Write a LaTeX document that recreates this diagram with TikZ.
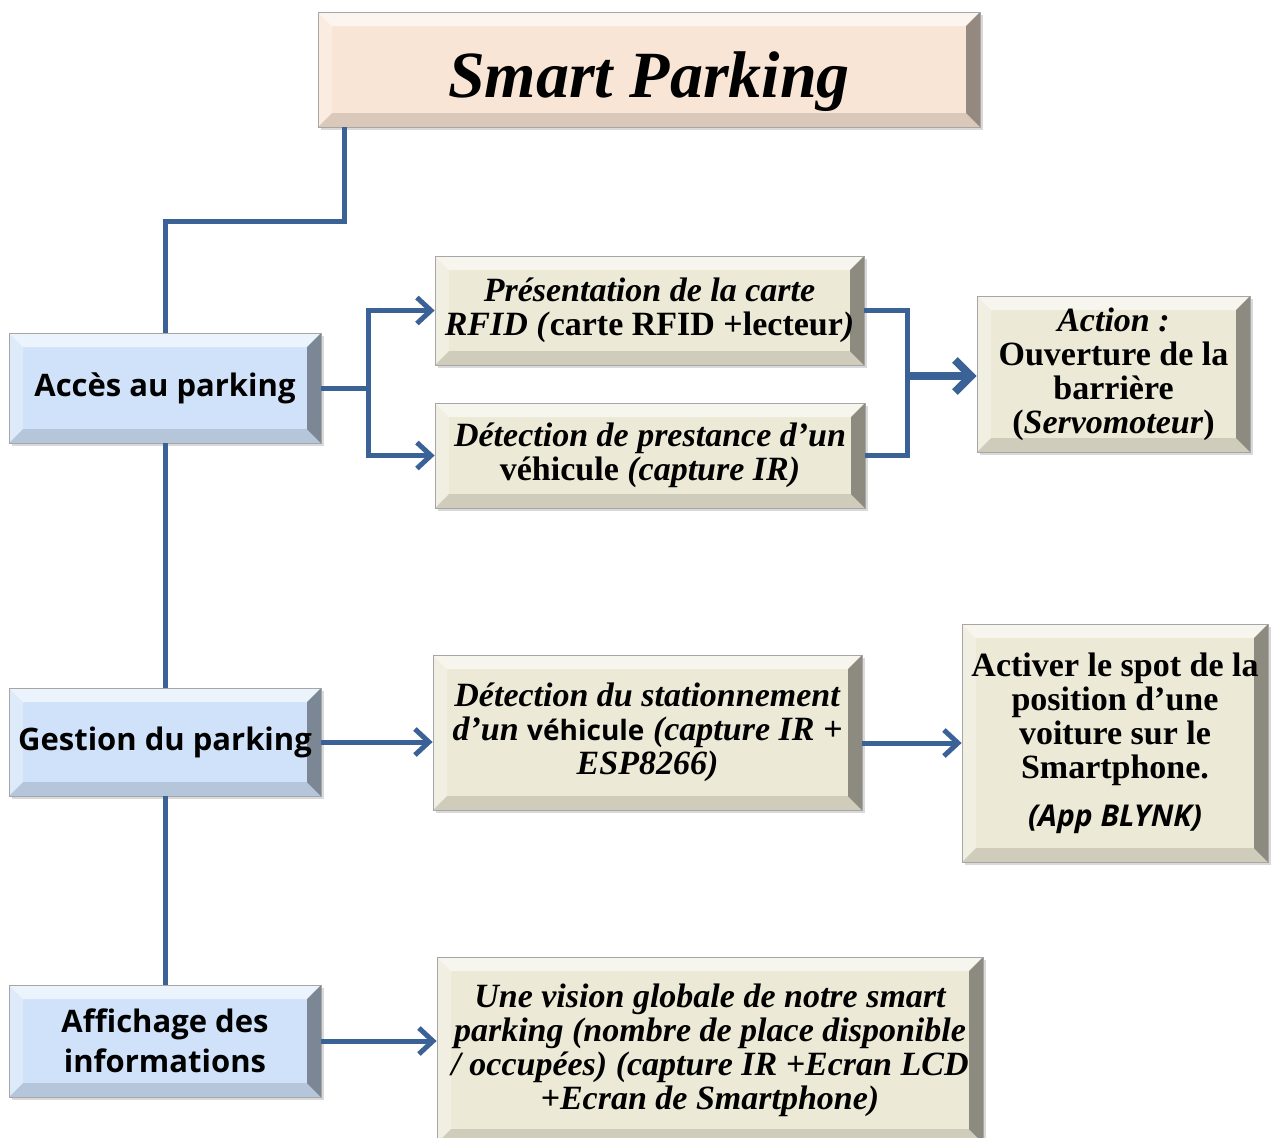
\documentclass[tikz,border=0pt]{standalone}
\usepackage{fontspec}
\setmainfont{Liberation Serif}
\newfontfamily\opensans{Open Sans}
\usetikzlibrary{arrows.meta,shadows}

\definecolor{linkblue}{RGB}{58,98,150}
\definecolor{skyfill}{RGB}{207,226,249}
\definecolor{sandfill}{RGB}{236,233,214}
\definecolor{peachfill}{RGB}{249,229,213}

\newcommand{\bevw}{7pt}

\tikzset{
	bevel/.style={path picture={
		\path (path picture bounding box.north west) coordinate (pnw)
			(path picture bounding box.north east) coordinate (pne)
			(path picture bounding box.south east) coordinate (pse)
			(path picture bounding box.south west) coordinate (psw);
		\fill[white, opacity=.6] (pnw) -- (pne) -- ([shift={(-\bevw,-\bevw)}]pne) -- ([shift={(\bevw,-\bevw)}]pnw) -- cycle;
		\fill[white, opacity=.3] (pnw) -- (psw) -- ([shift={(\bevw,\bevw)}]psw) -- ([shift={(\bevw,-\bevw)}]pnw) -- cycle;
		\fill[black, opacity=.12] (psw) -- (pse) -- ([shift={(-\bevw,\bevw)}]pse) -- ([shift={(\bevw,\bevw)}]psw) -- cycle;
		\fill[black, opacity=.4] (pne) -- (pse) -- ([shift={(-\bevw,\bevw)}]pse) -- ([shift={(-\bevw,-\bevw)}]pne) -- cycle;
	}},
	box/.style={rectangle, bevel, inner sep=2pt, align=center, draw=black!35, line width=.4pt,
		drop shadow={shadow xshift=1.5pt, shadow yshift=-1.5pt, opacity=.3}},
	titlebox/.style={box, fill=peachfill, text height=30pt, text depth=2pt,
		font=\bfseries\itshape\fontsize{33}{33}\selectfont},
	stagebox/.style={box, fill=skyfill, font=\opensans\bfseries\fontsize{15.5}{20}\selectfont},
	taskbox/.style={box, fill=sandfill, font=\bfseries\fontsize{17}{17}\selectfont},
	link/.style={draw=linkblue, line width=2.5pt},
	arr/.style={link, -{Straight Barb[length=7pt, width=13pt]}},
	bigarr/.style={draw=linkblue, line width=4pt, -{Straight Barb[length=8pt, width=16pt]}},
}

\begin{document}
\begin{tikzpicture}[x=0.5pt, y=-0.5pt]
\useasboundingbox (0,0) rectangle (1274,1137);

% title and the three stages
\node[titlebox, minimum width=331pt, minimum height=57.5pt] (title) at (649,69.5) {Smart Parking};
\node[stagebox, minimum width=156pt, minimum height=55pt] (acces) at (165,388) {Accès au parking};
\node[stagebox, minimum width=156pt, minimum height=54pt] (gest) at (165,742) {Gestion du parking};
\node[stagebox, minimum width=156pt, minimum height=56pt] (aff) at (165,1041) {Affichage des\\informations};

% tasks
\node[taskbox, minimum width=214.5pt, minimum height=54.5pt] (pres) at (649.5,310.5)
	{\textit{Présentation de la carte}\\\textit{RFID (}carte RFID +lecteur\textit{)}};
\node[taskbox, minimum width=215pt, minimum height=52.5pt] (prest) at (650,455.5)
	{\textit{Détection de prestance d’un}\\véhicule \textit{(capture IR)}};
\node[taskbox, minimum width=136.5pt, minimum height=78pt] (act) at (1113.5,374)
	{\textit{Action :}\\Ouverture de la\\barrière\\(\textit{Servomoteur})};
\node[taskbox, minimum width=214.5pt, minimum height=77.5pt] (stat) at (647.5,732.5)
	{\textit{Détection du stationnement}\\\textit{d’un} {\opensans\fontsize{14}{17}\selectfont véhicule} \textit{(capture IR +}\\\textit{ESP8266)}};
\node[taskbox, minimum width=153pt, minimum height=119pt] (spot) at (1115,743)
	{Activer le spot de la\\position d’une\\voiture sur le\\Smartphone.\\[7pt]{\opensans\itshape\fontsize{15}{17}\selectfont(App BLYNK)}};
\node[taskbox, minimum width=273pt, minimum height=93pt] (vis) at (710,1050)
	{\itshape Une vision globale de notre smart\\\itshape parking (nombre de place disponible\\\itshape / occupées) (capture IR +Ecran LCD\\\itshape +Ecran de Smartphone)};

% connectors
\coordinate (t1) at (344,221);
\coordinate (j1) at (368,388);
\coordinate (j2) at (907,376);
\draw[link] (t1 |- title.south) -- (t1) -| (acces.north);
\foreach \u\v in {acces/gest, gest/aff}{
	\draw[link] (\u.south) -- (\v.north);
}
\draw[link] (acces.east) -- (j1);
\draw[arr] (j1) |- (pres.west);
\draw[arr] (j1) |- (prest.west);
\draw[link] (pres.east) -| (j2);
\draw[link] (prest.east) -| (j2);
\draw[bigarr] (j2) -- (j2 -| act.west);
\draw[arr] (gest.east) -- (gest.east -| stat.west);
\draw[arr] (stat.east |- spot.west) -- (spot.west);
\draw[arr] (aff.east) -- (aff.east -| vis.west);
\end{tikzpicture}
\end{document}
